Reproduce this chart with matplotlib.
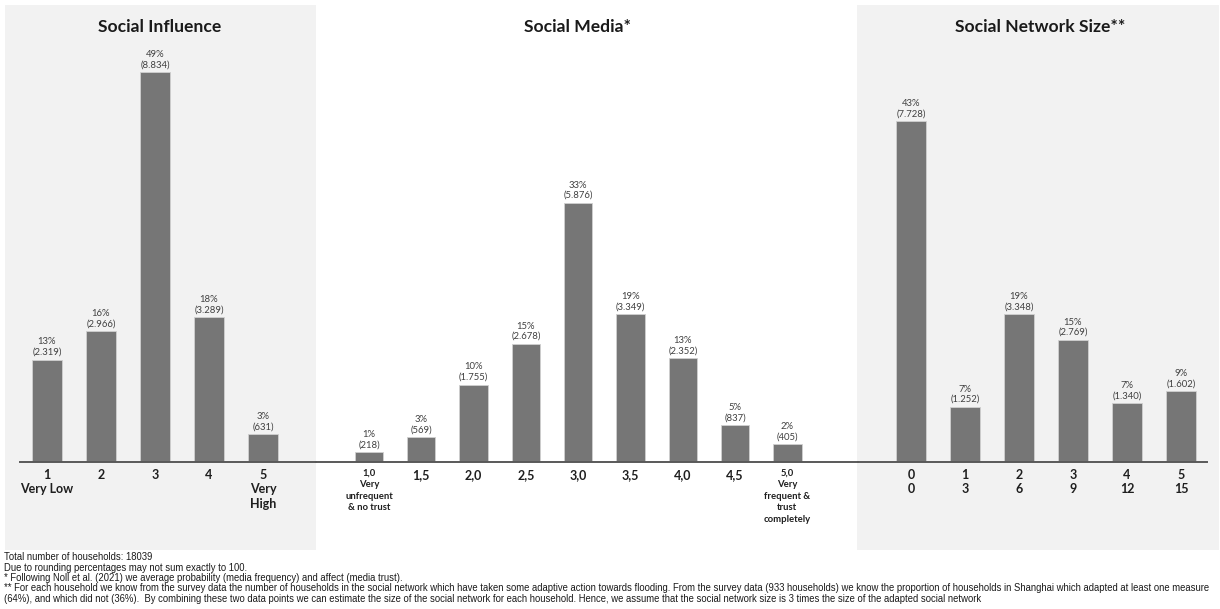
import matplotlib
matplotlib.use("Agg")
import matplotlib.pyplot as plt
from matplotlib.patches import Rectangle

# ---------------- data ----------------
influence_labels = ["1\nVery Low", "2", "3", "4", "5\nVery\nHigh"]
influence_counts = [2319, 2966, 8834, 3289, 631]
influence_pcts = [13, 16, 49, 18, 3]

media_labels = ["1,0\nVery\nunfrequent\n& no trust", "1,5", "2,0", "2,5", "3,0",
                "3,5", "4,0", "4,5", "5,0\nVery\nfrequent &\ntrust\ncompletely"]
media_counts = [218, 569, 1755, 2678, 5876, 3349, 2352, 837, 405]
media_pcts = [1, 3, 10, 15, 33, 19, 13, 5, 2]

network_labels = ["0\n0", "1\n3", "2\n6", "3\n9", "4\n12", "5\n15"]
network_counts = [7728, 1252, 3348, 2769, 1340, 1602]
network_pcts = [43, 7, 19, 15, 7, 9]

titles = ["Social Influence", "Social Media*", "Social Network Size**"]

footnotes = [
    "Total number of households: 18039",
    "Due to rounding percentages may not sum exactly to 100.",
    "* Following Noll et al. (2021) we average probability (media frequency) and affect (media trust).",
    "** For each household we know from the survey data the number of households in the social network which have taken some adaptive action towards flooding. From the survey data (933 households) we know the proportion of households in Shanghai which adapted at least one measure",
    "(64%), and which did not (36%).  By combining these two data points we can estimate the size of the social network for each household. Hence, we assume that the social network size is 3 times the size of the adapted social network",
]

# ---------------- style ----------------
W, H = 1220, 609
fig = plt.figure(figsize=(W / 100, H / 100), dpi=100)
fig.patch.set_facecolor("white")

FONT = ["Lato", "DejaVu Sans"]
BAR_COLOR = "#767676"
EDGE_COLOR = "#d0d0d0"
PANEL = "#f2f2f2"
AXIS_COLOR = "#595959"


def px_rect(x0, y0, x1, y1):
    """figure-fraction rect from pixel coordinates (top-left origin)"""
    return [x0 / W, 1 - y1 / H, (x1 - x0) / W, (y1 - y0) / H]


# gray panels
for (x0, y0, x1, y1) in [(5, 5, 316, 550), (857, 5, 1219, 550)]:
    l, b, w, h = px_rect(x0, y0, x1, y1)
    fig.patches.append(Rectangle((l, b), w, h, transform=fig.transFigure,
                                 facecolor=PANEL, edgecolor="none", zorder=-5))

BASE_Y = 462
TOP_Y = 5
PX_PER_COUNT = 0.04413
YMAX = (BASE_Y - TOP_Y) / PX_PER_COUNT

panels = [
    # axes x0, x1 (px), first-center px, spacing px, data, title center px
    (20, 316, 47, 54.0, influence_labels, influence_counts, influence_pcts, 160),
    (316, 858, 369, 52.3, media_labels, media_counts, media_pcts, 577),
    (858, 1207, 911, 54.0, network_labels, network_counts, network_pcts, 1040),
]

for idx, (x0, x1, c0, sp, labels, counts, pcts, tx) in enumerate(panels):
    ax = fig.add_axes(px_rect(x0, TOP_Y, x1, BASE_Y))
    ax.set_zorder(2)
    ax.set_facecolor("none")
    ax.patch.set_visible(False)
    lo = -(c0 - x0) / sp
    hi = lo + (x1 - x0) / sp
    ax.set_xlim(lo, hi)
    ax.set_ylim(0, YMAX)
    xs = list(range(len(counts)))
    ax.bar(xs, counts, width=0.54, color=BAR_COLOR, edgecolor=EDGE_COLOR,
           linewidth=0.6, zorder=2)
    for x, c, p in zip(xs, counts, pcts):
        ax.annotate(f"{p}%\n({c:,})".replace(",", "."), (x, c),
                    xytext=(0, 2), textcoords="offset points",
                    ha="center", va="bottom", fontsize=6.8, color="#404040",
                    family=FONT, linespacing=1.2, annotation_clip=False)
    for sp_name in ["top", "right", "left"]:
        ax.spines[sp_name].set_visible(False)
    ax.spines["bottom"].set_color(AXIS_COLOR)
    ax.spines["bottom"].set_linewidth(1.4)
    ax.set_yticks([])
    ax.set_xticks([])
    last = len(labels) - 1
    for x, lab in enumerate(labels):
        small = idx == 1 and x in (0, last)
        ax.annotate(lab, (x, 0), xytext=(0, -4.8 if small else -5.0),
                    textcoords="offset points", ha="center", va="top",
                    multialignment="center",
                    fontsize=6.8 if small else 9.0, fontweight="bold",
                    color="#1f1f1f", family=FONT,
                    linespacing=1.36 if small else 1.25,
                    annotation_clip=False)
    fig.text(tx / W, 1 - 27 / H, titles[idx], ha="center", va="center",
             fontsize=12.6, fontweight="bold", color="#1a1a1a", family=FONT)

for i, line in enumerate(footnotes):
    fig.text(4 / W, 1 - (557.5 + i * 10.3) / H, line, ha="left", va="center",
             fontsize=6.85, color="#1a1a1a",
             family=["Liberation Sans", "DejaVu Sans"])

fig.savefig("out.png", dpi=100, facecolor="white")
